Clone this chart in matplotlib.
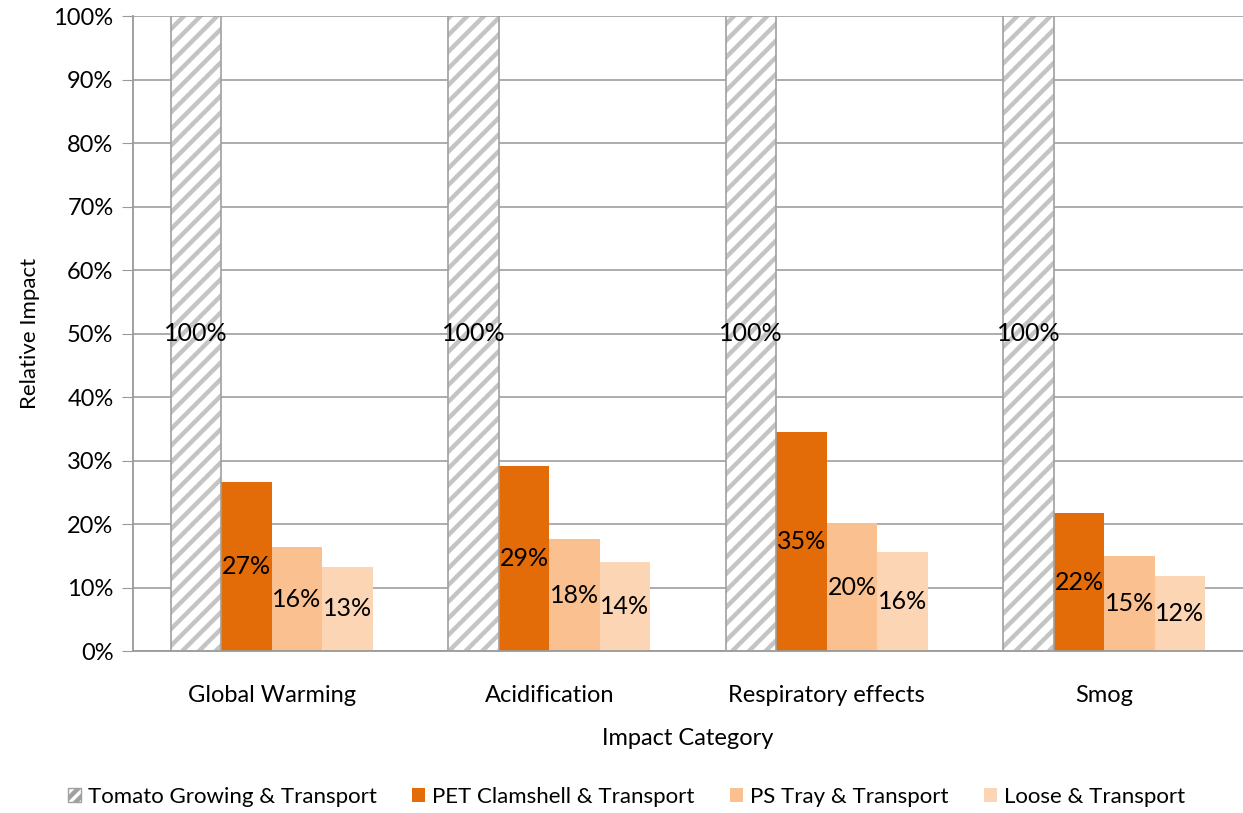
import matplotlib.pyplot as plt
import matplotlib.patches as mpatches
from matplotlib.ticker import PercentFormatter
import numpy as np

plt.rcParams['font.family'] = ['Lato', 'DejaVu Sans']
plt.rcParams['hatch.linewidth'] = 3.2

# impact categories and relative impacts (% of tomato growing & transport)
categories = ["Global Warming", "Acidification", "Respiratory effects", "Smog"]
series_names = ["Tomato Growing & Transport", "PET Clamshell & Transport",
                "PS Tray & Transport", "Loose & Transport"]
tomato = [100, 100, 100, 100]
pet_clamshell = [26.6, 29.1, 34.6, 21.7]
ps_tray = [16.4, 17.6, 20.2, 15.0]
loose = [13.3, 14.0, 15.7, 11.8]

colors = [None, "#E36C09", "#FAC090", "#FCD5B5"]

fig = plt.figure(figsize=(12.43, 8.13), dpi=100)
ax = fig.add_axes([0.107, 0.199, 0.893, 0.781])

x = np.arange(len(categories))
w = 0.182
offsets = [-1.5 * w, -0.5 * w, 0.5 * w, 1.5 * w]
series = [tomato, pet_clamshell, ps_tray, loose]

for i, (vals, off) in enumerate(zip(series, offsets)):
    if i == 0:
        # hatched bar: stripes first, then the outline on top
        ax.bar(x + off, vals, w, color="white", edgecolor="#C4C4C4",
               hatch="//", linewidth=0, zorder=2)
        ax.bar(x + off, vals, w, fill=False, edgecolor="#A0A0A0",
               linewidth=1.2, zorder=3)
    else:
        ax.bar(x + off, vals, w, color=colors[i], linewidth=0, zorder=2)
    for xi, v in zip(x + off, vals):
        ax.text(xi, v / 2, f"{round(v):.0f}%", ha="center", va="center",
                fontsize=18, color="black", zorder=4)

ax.set_ylim(0, 100)
ax.set_xlim(-0.5, len(categories) - 0.5)
ax.set_yticks(range(0, 101, 10))
ax.yaxis.set_major_formatter(PercentFormatter(decimals=0))
ax.set_xticks(x)
ax.set_xticklabels(categories)
ax.tick_params(axis="x", length=0, pad=24, labelsize=17)
ax.tick_params(axis="y", length=8, color="#999999", labelsize=17, pad=6)
ax.grid(axis="y", color="#A6A6A6", linewidth=1.3, zorder=0)
ax.set_axisbelow(True)
for s in ["top", "right"]:
    ax.spines[s].set_visible(False)
for s in ["left", "bottom"]:
    ax.spines[s].set_color("#999999")
    ax.spines[s].set_linewidth(1.3)

ax.set_xlabel("Impact Category", fontsize=17, labelpad=16)
ax.set_ylabel("Relative Impact", fontsize=16, labelpad=10)

handles = [mpatches.Patch(facecolor="white", edgecolor="#A0A0A0", hatch="///")]
handles += [mpatches.Patch(facecolor=c, edgecolor="none") for c in colors[1:]]
fig.legend(handles, series_names, loc="center", bbox_to_anchor=(0.504, 0.02),
           ncol=4, frameon=False, fontsize=16, handlelength=0.6,
           handleheight=0.6, handletextpad=0.3, columnspacing=1.6)

fig.savefig("out.png", dpi=100)
